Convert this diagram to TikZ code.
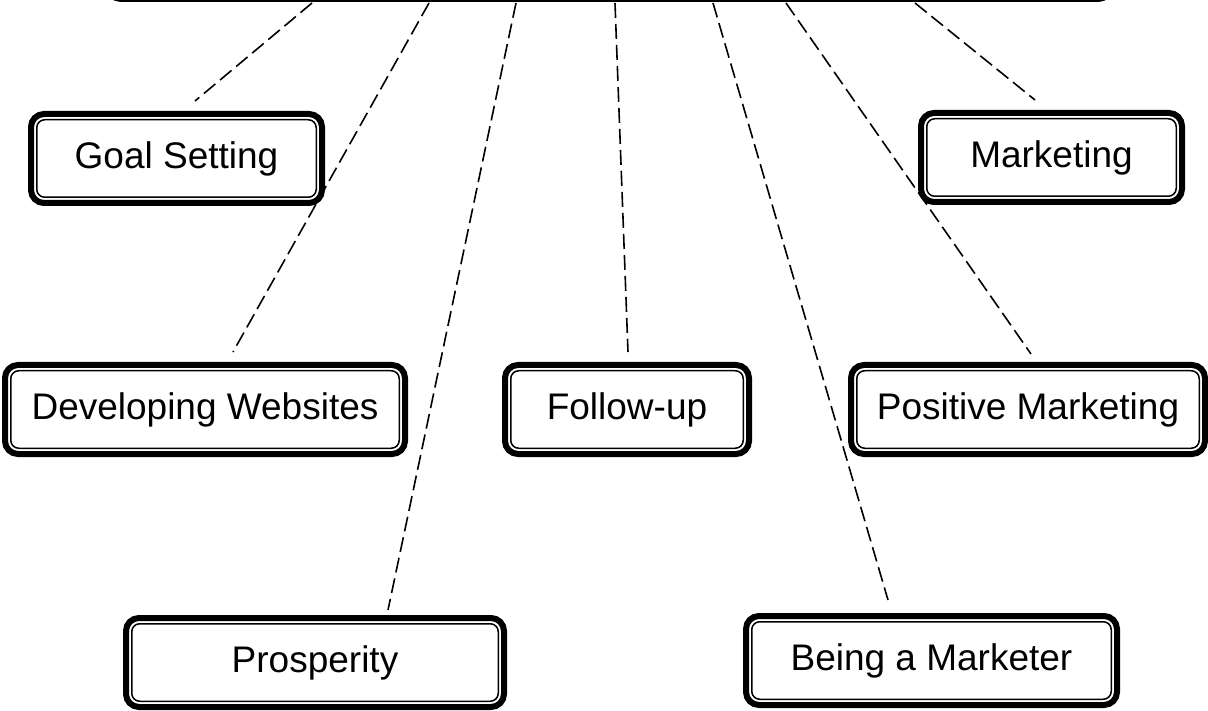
\documentclass[tikz,border=0pt]{standalone}
\usepackage{fontspec}
\setmainfont{Liberation Sans}
\begin{document}
\begin{tikzpicture}[x=1pt,y=-1pt,
  dbox/.style={draw=black, line width=6pt, rounded corners=13pt, fill=white,
    inner sep=0pt, minimum height=89pt, align=center,
    font=\fontsize{37}{44}\selectfont,
    path picture={\draw[line width=1.5pt, rounded corners=8pt]
      ([shift={(5.75pt,5.75pt)}]path picture bounding box.south west) rectangle
      ([shift={(-5.75pt,-5.75pt)}]path picture bounding box.north east);}},
  conn/.style={draw=black, line width=1.6pt, dash pattern=on 15pt off 6pt}]
\useasboundingbox (0,0) rectangle (1208,711);
\node[dbox, minimum width=1003pt, minimum height=100pt] (top) at (609.5,-51) {};
\node[dbox, minimum width=291pt] (goal) at (176.5,158.5) {Goal Setting};
\node[dbox, minimum width=261pt] (mkt) at (1051.5,157.5) {Marketing};
\node[dbox, minimum width=400pt] (dev) at (205,409.5) {Developing Websites};
\node[dbox, minimum width=244pt] (fol) at (627,409.5) {Follow-up};
\node[dbox, minimum width=354pt] (pos) at (1028,409.5) {Positive Marketing};
\node[dbox, minimum width=378pt] (pro) at (315,662.5) {Prosperity};
\node[dbox, minimum width=371pt] (bei) at (931.5,660.5) {Being a Marketer};
\draw[conn] ([shift={(-297.5pt,-1pt)}]top.south) -- ([shift={(18.5pt,10pt)}]goal.north);
\draw[conn] ([shift={(-180.5pt,-1pt)}]top.south) -- ([shift={(28pt,10pt)}]dev.north);
\draw[conn] ([shift={(-93.5pt,-1pt)}]top.south) -- ([shift={(73pt,5pt)}]pro.north);
\draw[conn] ([shift={(5.5pt,-1pt)}]top.south) -- ([shift={(1pt,10pt)}]fol.north);
\draw[conn] ([shift={(103.5pt,-1pt)}]top.south) -- ([shift={(-43.5pt,13pt)}]bei.north);
\draw[conn] ([shift={(176.5pt,-1pt)}]top.south) -- ([shift={(3pt,8pt)}]pos.north);
\draw[conn] ([shift={(305.5pt,-1pt)}]top.south) -- ([shift={(-16.5pt,10pt)}]mkt.north);
\end{tikzpicture}
\end{document}
